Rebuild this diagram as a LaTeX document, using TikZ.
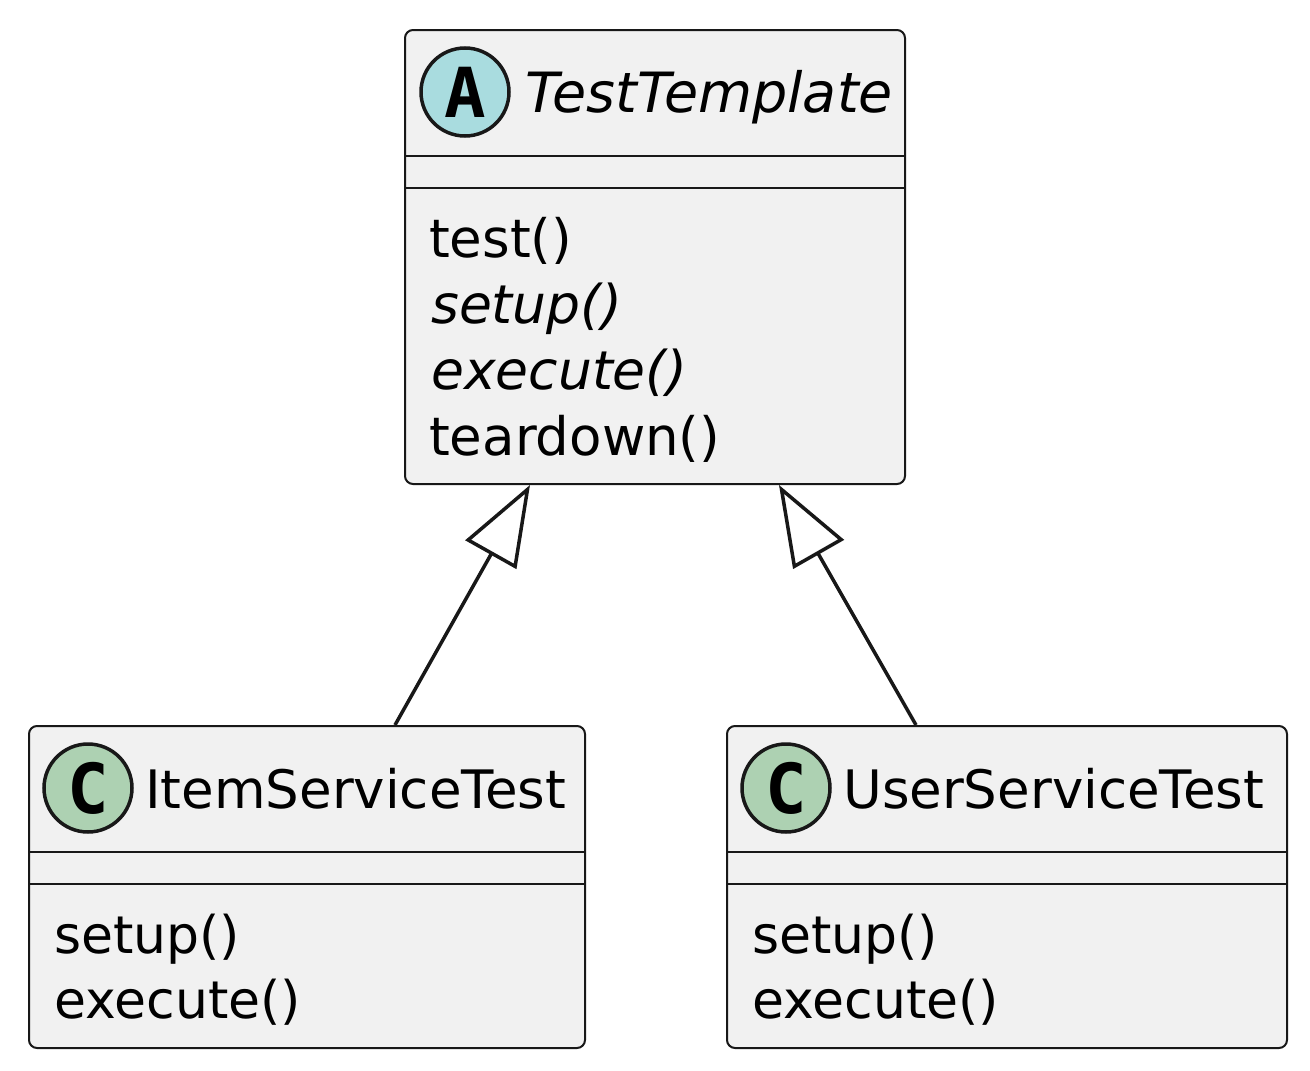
\documentclass[tikz,border=0pt]{standalone}
\usepackage{fontspec}
\setmainfont{DejaVu Sans}
\newfontfamily\circfont{DejaVu Sans Mono}
\usetikzlibrary{arrows.meta}
\definecolor{boxfill}{HTML}{F1F1F1}
\definecolor{ink}{HTML}{181818}
\definecolor{absfill}{HTML}{A9DCDF}
\definecolor{clsfill}{HTML}{ADD1B2}
\tikzset{
  umlbox/.style={draw=ink, fill=boxfill, line width=2pt, rounded corners=8pt, anchor=north west, inner sep=0pt},
  sepline/.style={draw=ink, line width=2pt},
  badge/.style={circle, draw=ink, line width=3.5pt, minimum size=88pt, inner sep=0pt, font=\circfont\bfseries\fontsize{69}{69}\selectfont},
  title/.style={anchor=base west, inner sep=0pt, font=\fontsize{53}{60}\selectfont},
  ititle/.style={anchor=base west, inner sep=0pt, font=\itshape\fontsize{55.5}{60}\selectfont},
  member/.style={anchor=base west, inner sep=0pt, font=\fontsize{53}{60}\selectfont},
  submember/.style={anchor=base west, inner sep=0pt, font=\fontsize{52}{60}\selectfont},
  imember/.style={anchor=base west, inner sep=0pt, font=\itshape\fontsize{53.5}{60}\selectfont},
  inherit/.style={draw=ink, line width=3.5pt, -{Triangle[length=80pt, width=58pt, fill=white, line width=3.5pt]}},
}
\begin{document}
\begin{tikzpicture}[x=1pt, y=-1pt]
\useasboundingbox (0,0) rectangle (1310,1071);
% TestTemplate
\node[umlbox, minimum width=500pt, minimum height=454pt] (tt) at (404,29) {};
\node[badge, fill=absfill] (ttc) at (465,92) {A};
\node[ititle] (ttn) at (525,112) {TestTemplate};
\draw[sepline] (404,156) -- (904,156);
\draw[sepline] (404,188) -- (904,188);
\node[member] (tm1) at (429,257) {test()};
\node[imember] (tm2) at (431,323) {setup()};
\node[imember] (tm3) at (431,389) {execute()};
\node[member] (tm4) at (429,455) {teardown()};
% ItemServiceTest
\node[umlbox, minimum width=556pt, minimum height=322pt] (it) at (28,725) {};
\node[badge, fill=clsfill] (itc) at (88,788) {C};
\node[title] (itn) at (145,808) {ItemServiceTest};
\draw[sepline] (28,852) -- (584,852);
\draw[sepline] (28,884) -- (584,884);
\node[submember] (im1) at (54,953) {setup()};
\node[submember] (im2) at (54,1018) {execute()};
% UserServiceTest
\node[umlbox, minimum width=560pt, minimum height=322pt] (ut) at (726,725) {};
\node[badge, fill=clsfill] (utc) at (786,788) {C};
\node[title] (utn) at (843,808) {UserServiceTest};
\draw[sepline] (726,852) -- (1286,852);
\draw[sepline] (726,884) -- (1286,884);
\node[submember] (um1) at (752,953) {setup()};
\node[submember] (um2) at (752,1018) {execute()};
% inheritance
\draw[inherit] ([xshift=367pt]it.north west) -- ([xshift=126pt]tt.south west);
\draw[inherit] ([xshift=190pt]ut.north west) -- ([xshift=375pt]tt.south west);
\end{tikzpicture}
\end{document}
